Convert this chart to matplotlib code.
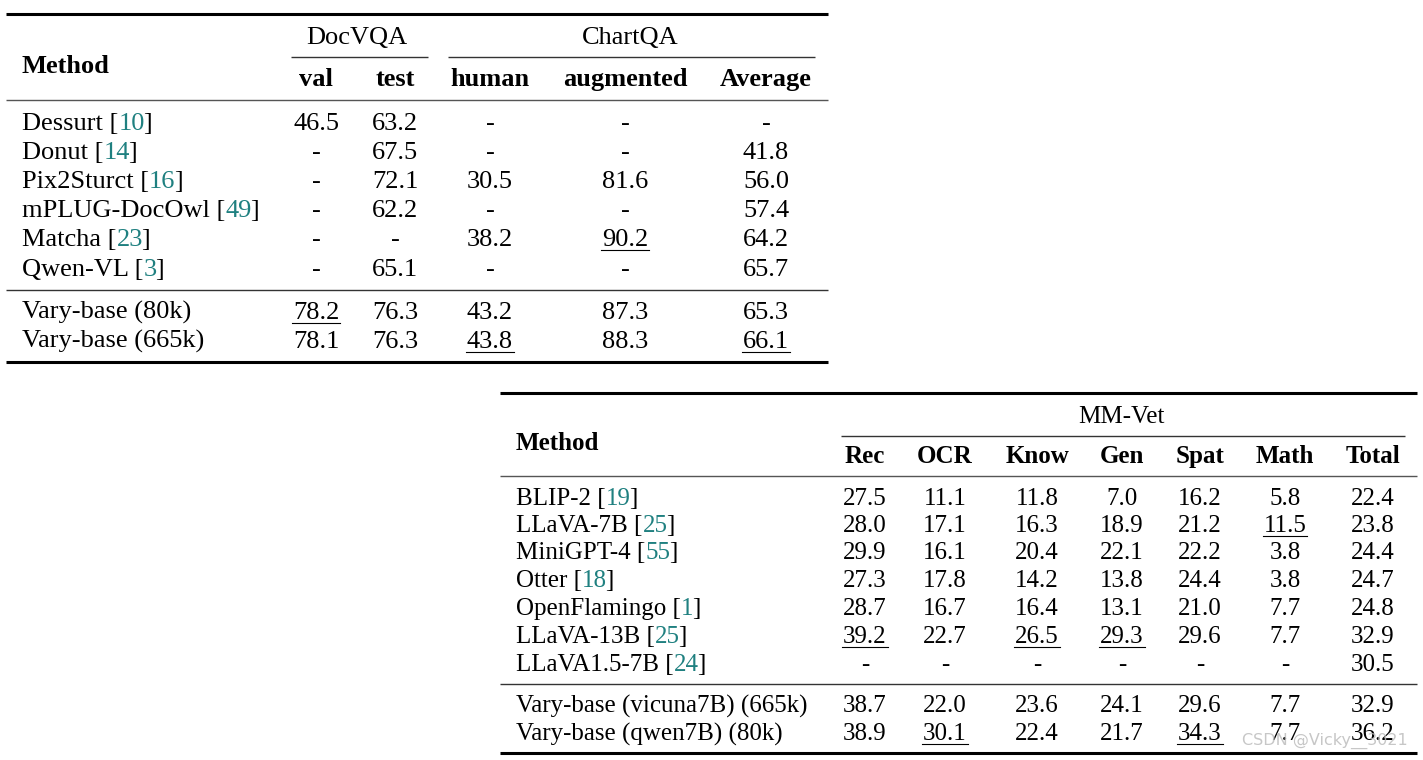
import matplotlib
matplotlib.use("Agg")
import matplotlib.pyplot as plt

# Table 1: DocVQA / ChartQA
t1_methods = ["Dessurt", "Donut", "Pix2Sturct", "mPLUG-DocOwl", "Matcha", "Qwen-VL",
              "Vary-base (80k)", "Vary-base (665k)"]
t1_refs = ["10", "14", "16", "49", "23", "3", None, None]
t1_cols = ["val", "test", "human", "augmented", "Average"]
t1_values = [
    ["46.5", "63.2", "-", "-", "-"],
    ["-", "67.5", "-", "-", "41.8"],
    ["-", "72.1", "30.5", "81.6", "56.0"],
    ["-", "62.2", "-", "-", "57.4"],
    ["-", "-", "38.2", "90.2", "64.2"],
    ["-", "65.1", "-", "-", "65.7"],
    ["78.2", "76.3", "43.2", "87.3", "65.3"],
    ["78.1", "76.3", "43.8", "88.3", "66.1"],
]
t1_underline = [(4, 3), (6, 0), (7, 2), (7, 4)]

# Table 2: MM-Vet
t2_methods = ["BLIP-2", "LLaVA-7B", "MiniGPT-4", "Otter", "OpenFlamingo", "LLaVA-13B",
              "LLaVA1.5-7B", "Vary-base (vicuna7B) (665k)", "Vary-base (qwen7B) (80k)"]
t2_refs = ["19", "25", "55", "18", "1", "25", "24", None, None]
t2_cols = ["Rec", "OCR", "Know", "Gen", "Spat", "Math", "Total"]
t2_values = [
    ["27.5", "11.1", "11.8", "7.0", "16.2", "5.8", "22.4"],
    ["28.0", "17.1", "16.3", "18.9", "21.2", "11.5", "23.8"],
    ["29.9", "16.1", "20.4", "22.1", "22.2", "3.8", "24.4"],
    ["27.3", "17.8", "14.2", "13.8", "24.4", "3.8", "24.7"],
    ["28.7", "16.7", "16.4", "13.1", "21.0", "7.7", "24.8"],
    ["39.2", "22.7", "26.5", "29.3", "29.6", "7.7", "32.9"],
    ["-", "-", "-", "-", "-", "-", "30.5"],
    ["38.7", "22.0", "23.6", "24.1", "29.6", "7.7", "32.9"],
    ["38.9", "30.1", "22.4", "21.7", "34.3", "7.7", "36.2"],
]
t2_underline = [(1, 5), (5, 0), (5, 2), (5, 3), (8, 1), (8, 4)]

W, H = 1423, 760
SERIF = "Liberation Serif"
CITE = "#1f8080"

fig = plt.figure(figsize=(W / 100, H / 100), dpi=100)
ax = fig.add_axes([0, 0, 1, 1])
ax.set_xlim(0, W)
ax.set_ylim(H, 0)
ax.axis("off")
renderer = fig.canvas.get_renderer()


def width_of(t):
    return t.get_window_extent(renderer).width


def rule(x0, x1, y, lw, color="black"):
    ax.plot([x0, x1], [y, y], color=color, lw=lw, solid_capstyle="butt")


def method_label(x, y, name, ref, size):
    if ref is None:
        ax.text(x, y, name, fontsize=size, family=SERIF, va="baseline")
        return
    t = ax.text(x, y, name + " [", fontsize=size, family=SERIF, va="baseline")
    x += width_of(t)
    t = ax.text(x, y, ref, fontsize=size, family=SERIF, va="baseline", color=CITE)
    x += width_of(t) - 1.5
    ax.text(x, y, "]", fontsize=size, family=SERIF, va="baseline")


def cell(x, y, s, size, underline=False):
    t = ax.text(x, y, s, fontsize=size, family=SERIF, ha="center", va="baseline")
    if underline:
        w = width_of(t)
        ax.plot([x - w / 2 - 1, x + w / 2 + 1], [y + 4, y + 4], color="black", lw=0.8)


# ---- Table 1 ----
fs1 = 19
off1 = 8.8
t1_x = [316, 395, 490, 625, 766]
t1_rows = [121, 150, 179, 208, 237, 267, 310, 339]
rule(6, 828, 14, 2.2)
ax.text(357, 35 + off1, "DocVQA", fontsize=fs1, family=SERIF, ha="center", va="baseline")
ax.text(630, 35 + off1, "ChartQA", fontsize=fs1, family=SERIF, ha="center", va="baseline")
rule(291, 428, 57, 1.0, "#333333")
rule(448, 815, 57, 1.0, "#333333")
ax.text(22, 64 + off1, "Method", fontsize=fs1, family=SERIF, weight="bold", va="baseline")
for x, c in zip(t1_x, t1_cols):
    ax.text(x, 77 + off1, c, fontsize=fs1, family=SERIF, weight="bold", ha="center", va="baseline")
rule(6, 828, 100, 1.0, "#555555")
rule(6, 828, 290, 1.0, "#333333")
for i, (name, ref) in enumerate(zip(t1_methods, t1_refs)):
    y = t1_rows[i] + off1
    method_label(22, y, name, ref, fs1)
    for j, v in enumerate(t1_values[i]):
        cell(t1_x[j], y, v, fs1, (i, j) in t1_underline)
rule(6, 828, 362, 2.2)

# ---- Table 2 ----
fs2 = 18
off2 = 8.4
t2_x = [865, 945, 1037, 1122, 1200, 1285, 1373]
t2_rows = [497, 524, 551, 579, 607, 635, 663, 704, 732]
rule(500, 1417, 393, 2.2)
ax.text(1121, 415 + off2, "MM-Vet", fontsize=fs2, family=SERIF, ha="center", va="baseline")
rule(841, 1405, 436, 1.0, "#333333")
ax.text(516, 442 + off2, "Method", fontsize=fs2, family=SERIF, weight="bold", va="baseline")
for x, c in zip(t2_x, t2_cols):
    ax.text(x, 455 + off2, c, fontsize=fs2, family=SERIF, weight="bold", ha="center", va="baseline")
rule(500, 1417, 476, 1.0, "#555555")
rule(500, 1417, 684, 1.0, "#333333")
for i, (name, ref) in enumerate(zip(t2_methods, t2_refs)):
    y = t2_rows[i] + off2
    method_label(516, y, name, ref, fs2)
    for j, v in enumerate(t2_values[i]):
        cell(t2_x[j], y, v, fs2, (i, j) in t2_underline)
rule(500, 1417, 753, 2.2)

# watermark
ax.text(1408, 741, "CSDN @Vicky__3021", fontsize=11.5, family="DejaVu Sans",
        color="#bdbdbd", ha="right", va="center", alpha=0.85)

fig.savefig("out.png", dpi=100)
